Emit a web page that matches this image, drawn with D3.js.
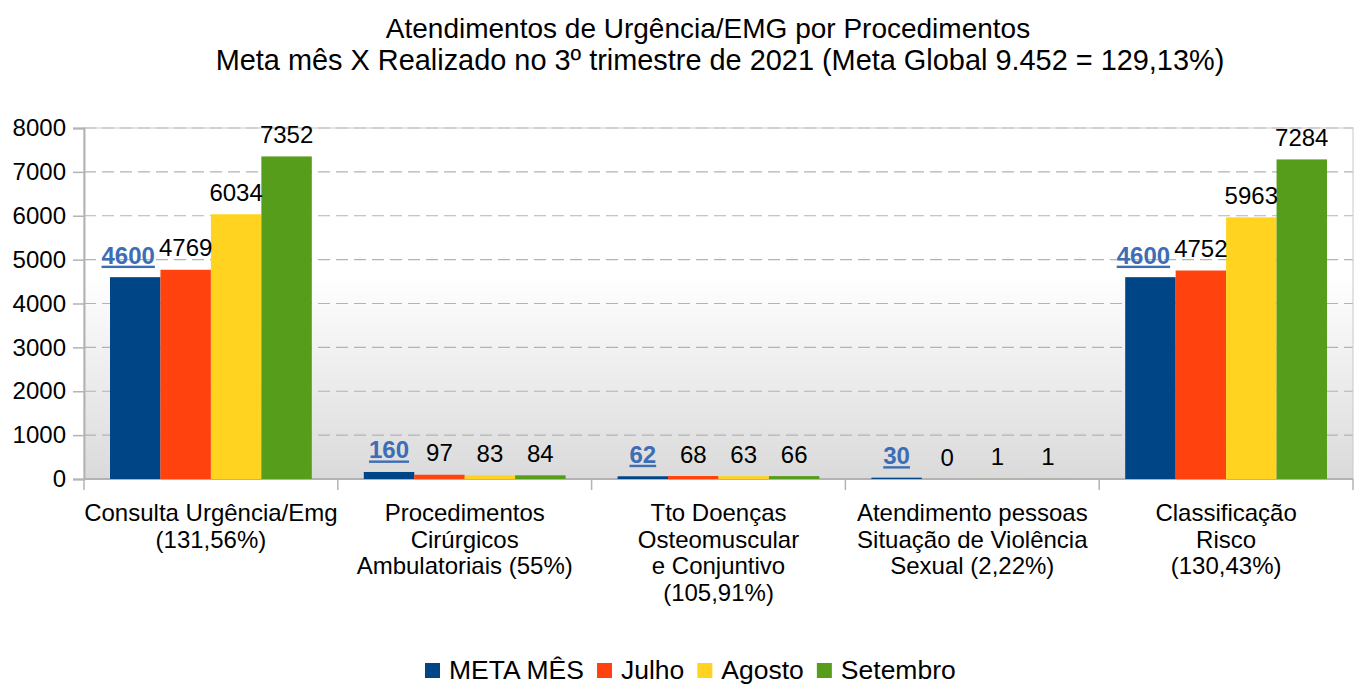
<!DOCTYPE html>
<html>
<head>
<meta charset="utf-8">
<script src="https://cdn.jsdelivr.net/npm/d3@7"></script>
<style>
  body { margin: 0; background: #fff; }
  text { font-family: "Liberation Sans", Arial, sans-serif; }
</style>
</head>
<body>
<div id="chart"></div>
<script>
var categories = [
  ["Consulta Urgência/Emg", "(131,56%)"],
  ["Procedimentos", "Cirúrgicos", "Ambulatoriais (55%)"],
  ["Tto Doenças", "Osteomuscular", "e Conjuntivo", "(105,91%)"],
  ["Atendimento pessoas", "Situação de Violência", "Sexual (2,22%)"],
  ["Classificação", "Risco", "(130,43%)"]
];
var seriesNames = ["META MÊS", "Julho", "Agosto", "Setembro"];
var metaMes = [4600, 160, 62, 30, 4600];
var julho = [4769, 97, 68, 0, 4752];
var agosto = [6034, 83, 63, 1, 5963];
var setembro = [7352, 84, 66, 1, 7284];
var yTicks = [0, 1000, 2000, 3000, 4000, 5000, 6000, 7000, 8000];
var colors = ["#004586", "#ff420e", "#ffd320", "#579d1c"];
var titleLines = ["Atendimentos de Urgência/EMG por Procedimentos",
  "Meta mês X Realizado no 3º trimestre de 2021 (Meta Global 9.452 = 129,13%)"];

var series = [metaMes, julho, agosto, setembro];

var W = 1357, H = 684;
var margin = {top: 128, right: 4, bottom: 205, left: 84},
  width = W - margin.left - margin.right,
  height = H - margin.top - margin.bottom;

var root = d3.select("#chart").append("svg")
  .attr("width", W).attr("height", H);

// background gradient of the plot area
var grad = root.append("defs").append("linearGradient")
  .attr("id", "bg").attr("x1", 0).attr("y1", 0).attr("x2", 0).attr("y2", 1);
grad.append("stop").attr("offset", "0%").attr("stop-color", "#ffffff");
grad.append("stop").attr("offset", "42%").attr("stop-color", "#ffffff");
grad.append("stop").attr("offset", "100%").attr("stop-color", "#dadada");

// title
root.append("g").selectAll("text")
  .data(titleLines).enter().append("text")
  .attr("x", function(d, i) { return i === 0 ? 708 : 720; })
  .attr("y", function(d, i) { return 38 + i * 32; })
  .attr("text-anchor", "middle")
  .style("font-size", function(d, i) { return i === 0 ? "28px" : "28.9px"; })
  .style("fill", "#000")
  .text(function(d) { return d; });

var svg = root.append("g")
  .attr("transform", "translate(" + margin.left + "," + margin.top + ")");

var x0 = d3.scaleBand().domain(d3.range(categories.length)).range([0, width]).paddingInner(0).paddingOuter(0);
var x1 = d3.scaleBand().domain(d3.range(series.length)).range([26, x0.bandwidth() - 26]);
var y = d3.scaleLinear().domain([0, 8000]).range([height, 0]);

svg.append("rect").attr("width", width).attr("height", height).attr("fill", "url(#bg)");

// grid
svg.append("g").selectAll("line")
  .data(yTicks.filter(function(d) { return d > 0; })).enter().append("line")
  .attr("x1", 0).attr("x2", width)
  .attr("y1", function(d) { return y(d); }).attr("y2", function(d) { return y(d); })
  .attr("stroke", "#b3b3b3").attr("stroke-width", 1.2)
  .attr("stroke-dasharray", "12,6");

// frame
svg.append("rect").attr("width", width).attr("height", height)
  .attr("fill", "none").attr("stroke", "#c8c8c8").attr("stroke-width", 1);

// y axis
var yAxis = svg.append("g")
  .call(d3.axisLeft(y).tickValues(yTicks).tickSize(11).tickPadding(7).tickFormat(d3.format("d")));
yAxis.select(".domain").attr("stroke", "#b3b3b3").attr("stroke-width", 2);
yAxis.selectAll(".tick line").attr("stroke", "#b3b3b3").attr("stroke-width", 1.5);
yAxis.selectAll(".tick text").style("font-size", "24px").style("fill", "#000")
  .style("font-family", "Liberation Sans, Arial, sans-serif");

// x axis
var xAxisG = svg.append("g").attr("transform", "translate(0," + height + ")");
xAxisG.append("line").attr("x1", 0).attr("x2", width).attr("stroke", "#b3b3b3").attr("stroke-width", 2);
xAxisG.selectAll(".sep").data(d3.range(categories.length + 1)).enter().append("line")
  .attr("x1", function(d) { return d * x0.step(); }).attr("x2", function(d) { return d * x0.step(); })
  .attr("y1", 0).attr("y2", 11).attr("stroke", "#b3b3b3").attr("stroke-width", 1.5);

var catG = xAxisG.selectAll(".cat").data(categories).enter().append("text")
  .attr("text-anchor", "middle")
  .attr("transform", function(d, i) { return "translate(" + (x0(i) + x0.bandwidth() / 2) + ",0)"; })
  .style("font-size", "24px").style("fill", "#000");
catG.selectAll("tspan").data(function(d) { return d; }).enter().append("tspan")
  .attr("x", 0).attr("y", function(d, i) { return 42 + i * 26.5; })
  .text(function(d) { return d; });

// bars
var groups = svg.selectAll(".grp").data(categories).enter().append("g")
  .attr("transform", function(d, i) { return "translate(" + x0(i) + ",0)"; });

groups.selectAll("rect").data(function(d, i) {
    return series.map(function(s, k) { return {k: k, v: s[i]}; });
  }).enter().append("rect")
  .attr("x", function(d) { return x1(d.k); })
  .attr("width", x1.bandwidth())
  .attr("y", function(d) { return y(d.v); })
  .attr("height", function(d) { return height - y(d.v); })
  .attr("fill", function(d) { return colors[d.k]; });

groups.selectAll(".lbl").data(function(d, i) {
    return series.map(function(s, k) { return {k: k, v: s[i]}; });
  }).enter().append("text")
  .attr("x", function(d) { return x1(d.k) + x1.bandwidth() / 2 - (d.k === 0 && d.v >= 1000 ? 7 : 0); })
  .attr("y", function(d) { return y(d.v) - 13.5; })
  .attr("text-anchor", "middle")
  .style("font-size", "24px")
  .style("font-weight", function(d) { return d.k === 0 ? "bold" : "normal"; })
  .style("text-decoration", function(d) { return d.k === 0 ? "underline" : "none"; })
  .style("fill", function(d) { return d.k === 0 ? "#3d6db5" : "#000"; })
  .text(function(d) { return d.v; });

// legend
var legend = root.append("g").attr("transform", "translate(425,663)");
var lx = 0;
seriesNames.forEach(function(name, i) {
  var g = legend.append("g").attr("transform", "translate(" + lx + ",0)");
  g.append("rect").attr("width", 15).attr("height", 15).attr("fill", colors[i]);
  var t = g.append("text").attr("x", 24).attr("y", 16).style("font-size", "26.5px").text(name);
  lx += 24 + t.node().getComputedTextLength() + 13;
});
</script>
</body>
</html>
